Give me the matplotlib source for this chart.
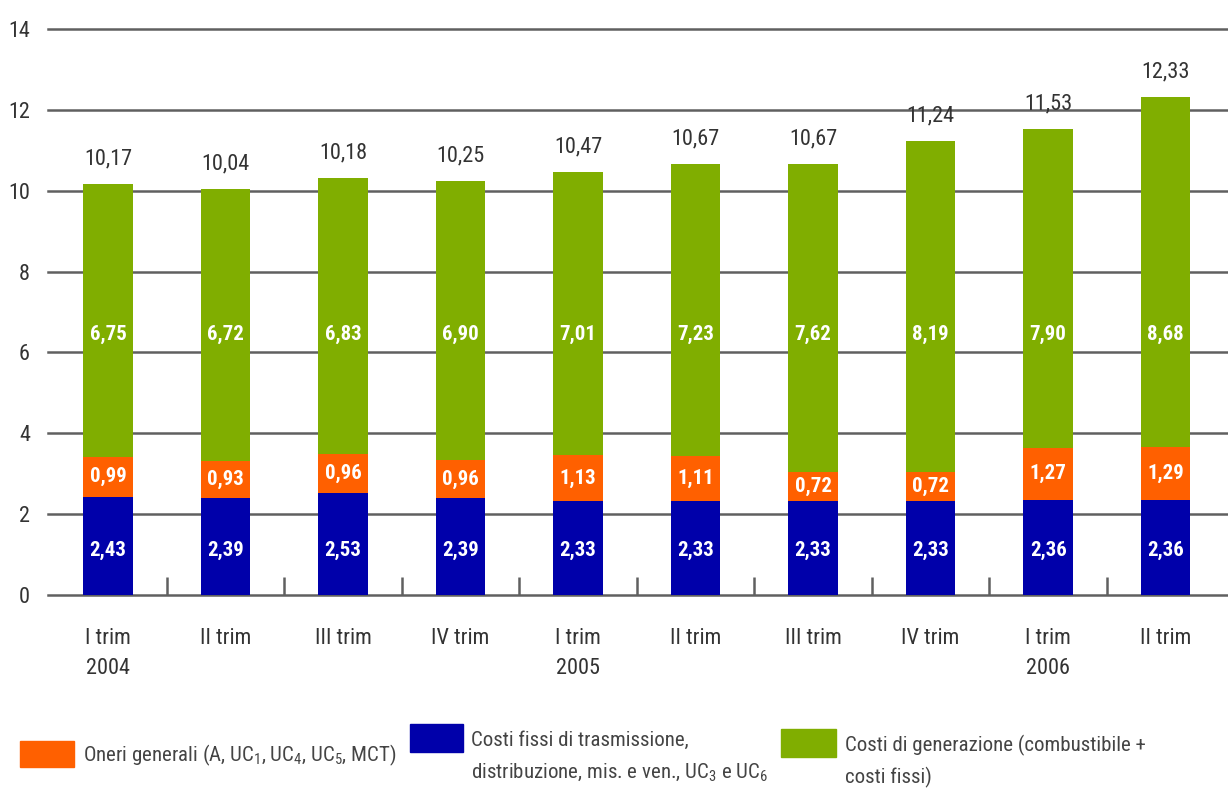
import matplotlib
matplotlib.use('Agg')
from matplotlib import pyplot as plt
from matplotlib import font_manager
from matplotlib.patches import Rectangle
import numpy as np

# prefer a narrow sans face when one is installed
fonts = font_manager.fontManager.ttflist
names = {f.name for f in fonts}
family = 'Roboto'
for cand in ['Liberation Sans Narrow', 'Roboto Condensed', 'Open Sans Condensed']:
    if cand in names:
        family = cand
        break
else:
    if any(f.name == 'DejaVu Sans' and f.stretch == 'condensed' for f in fonts):
        family = 'DejaVu Sans'
        plt.rcParams['font.stretch'] = 'condensed'
plt.rcParams['font.family'] = [family, 'DejaVu Sans']
plt.rcParams['mathtext.default'] = 'regular'

# quarterly cost components (c€/kWh)
quarters = ['I trim', 'II trim', 'III trim', 'IV trim', 'I trim',
            'II trim', 'III trim', 'IV trim', 'I trim', 'II trim']
years = {0: '2004', 4: '2005', 8: '2006'}
fixed_costs = [2.43, 2.39, 2.53, 2.39, 2.33, 2.33, 2.33, 2.33, 2.36, 2.36]
general_charges = [0.99, 0.93, 0.96, 0.96, 1.13, 1.11, 0.72, 0.72, 1.27, 1.29]
generation = [6.75, 6.72, 6.83, 6.90, 7.01, 7.23, 7.62, 8.19, 7.90, 8.68]
totals = [10.17, 10.04, 10.18, 10.25, 10.47, 10.67, 10.67, 11.24, 11.53, 12.33]

BLUE = '#0000aa'
ORANGE = '#ff6000'
GREEN = '#80ae00'
TXT = '#333333'
GRID = '#606060'

fig = plt.figure(figsize=(12.28, 7.95), dpi=100)
ax = fig.add_axes([48 / 1228, 200 / 795, 1 - 48 / 1228, 566 / 795])

x = np.arange(len(quarters))
w = 0.42
fixed = np.array(fixed_costs)
charges = np.array(general_charges)
gen = np.array(generation)

ax.bar(x, fixed, w, color=BLUE, zorder=2)
ax.bar(x, charges, w, bottom=fixed, color=ORANGE, zorder=2)
ax.bar(x, gen, w, bottom=fixed + charges, color=GREEN, zorder=2)

def fmt(v):
    return f'{v:.2f}'.replace('.', ',')

lab = dict(ha='center', va='center', color='white', fontsize=15,
           fontweight='bold', zorder=3)
for i in x:
    ax.text(i, 1.1, fmt(fixed[i]), **lab)
    ax.text(i, fixed[i] + charges[i] / 2, fmt(charges[i]), **lab)
    ax.text(i, 6.45, fmt(gen[i]), **lab)
    top = fixed[i] + charges[i] + gen[i]
    ax.annotate(fmt(totals[i]), (i, top), xytext=(0, 18),
                textcoords='offset points', ha='center', va='center',
                color=TXT, fontsize=16)

ax.set_xlim(-0.51, 9.53)
ax.set_ylim(0, 14)
ax.set_yticks(range(0, 15, 2))
ax.set_axisbelow(True)
for yv in range(0, 15, 2):
    ax.axhline(yv, color=GRID, linewidth=1.8, zorder=0, clip_on=False)
for s in ax.spines.values():
    s.set_visible(False)
ax.tick_params(axis='y', length=0, pad=13, labelsize=16, labelcolor=TXT)

ax.set_xticks(x)
ax.set_xticklabels(quarters)
ax.set_xticks(x[:-1] + 0.5, minor=True)
ax.tick_params(axis='x', which='major', length=0, pad=24,
               labelsize=16, labelcolor=TXT)
ax.tick_params(axis='x', which='minor', direction='in', length=13,
               width=1.8, color=GRID)
for i, yr in years.items():
    ax.annotate(yr, (i, 0), xytext=(0, -73 * 0.72),
                textcoords='offset points', ha='center', va='center',
                color=TXT, fontsize=16, annotation_clip=False)

# legend drawn by hand in figure pixels
def fig_box(x0, y0, x1, y1, color):
    fig.add_artist(Rectangle((x0 / 1228, 1 - y1 / 795), (x1 - x0) / 1228,
                             (y1 - y0) / 795, color=color,
                             transform=fig.transFigure))

def fig_txt(px, py, s):
    fig.text(px / 1228, 1 - py / 795, s, ha='left', va='center',
             color='#444444', fontsize=15)

fig_box(20, 741, 74, 767, ORANGE)
fig_txt(83, 755, r'Oneri generali (A, UC$_1$, UC$_4$, UC$_5$, MCT)')
fig_box(410, 724, 463, 752, BLUE)
fig_txt(471, 740, 'Costi fissi di trasmissione,')
fig_txt(471, 772, r'distribuzione, mis. e ven., UC$_3$ e UC$_6$')
fig_box(781, 729, 836, 757, GREEN)
fig_txt(845, 745, 'Costi di generazione (combustibile +')
fig_txt(845, 777, 'costi fissi)')

plt.savefig('out.png', dpi=100)
